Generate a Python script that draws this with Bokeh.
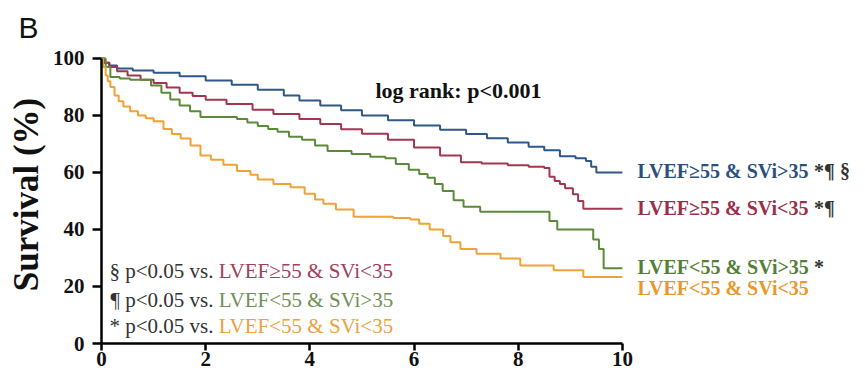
from bokeh.plotting import figure
from bokeh.models import Range1d, FixedTicker, Label, ColumnDataSource, Title
from bokeh.core.properties import value
from bokeh.embed import file_html
from bokeh.resources import INLINE

# ---------------- data ----------------
groups = ["LVEF\u226555 & SVi>35", "LVEF\u226555 & SVi<35", "LVEF<55 & SVi>35", "LVEF<55 & SVi<35"]
marks = ["*\u00b6 \u00a7", "*\u00b6", "*", ""]
colors = ["#2f5789", "#a3364f", "#5b8a3b", "#f0a236"]
text_colors = ["#2c4f7c", "#9a2f4a", "#557f38", "#e8982c"]

blue_x = [0, 0.05, 0.15, 0.3, 0.6, 1.0, 1.5, 2.0, 2.5, 3.0, 3.5, 3.8, 4.2, 4.6, 5.0, 5.5, 6.0, 6.5, 7.0, 7.4, 7.8, 8.2, 8.5, 8.8, 9.1, 9.3, 9.4, 9.5, 10.0]
blue_y = [100, 98.5, 97.5, 96.5, 95.8, 95, 93.8, 92.3, 90.8, 89, 87, 85.3, 83.5, 81.8, 80, 78.3, 76.5, 75, 73.5, 72, 70.5, 69, 67.8, 65.7, 65, 64, 62, 60, 60]

red_x = [0, 0.05, 0.15, 0.3, 0.5, 0.75, 1.0, 1.25, 1.5, 1.75, 2.0, 2.4, 2.9, 3.3, 3.8, 4.2, 4.6, 5.0, 5.5, 6.0, 6.5, 6.9, 7.3, 7.8, 8.2, 8.5, 8.6, 8.7, 8.8, 8.9, 9.05, 9.15, 9.25, 10.0]
red_y = [100, 98.5, 97, 95.5, 94, 92.5, 91.4, 89.8, 88, 86.8, 85.5, 84, 82, 80.5, 78.8, 77, 75.2, 73.6, 71.5, 68.8, 66, 63.6, 63.2, 62.5, 62, 61.6, 58.5, 57, 56, 54.5, 52.4, 50, 47.3, 47.3]

green_x = [0, 0.08, 0.17, 0.35, 0.55, 0.75, 0.95, 1.15, 1.32, 1.5, 1.7, 1.9, 2.6, 2.8, 3.0, 3.2, 3.38, 3.6, 3.85, 4.1, 4.34, 4.8, 5.16, 5.45, 5.65, 5.9, 6.1, 6.26, 6.4, 6.55, 6.76, 6.95, 7.27, 8.48, 8.6, 8.75, 9.39, 9.44, 9.55, 9.64, 10.0]
green_y = [100, 97, 93.5, 93, 92.5, 92.5, 90.5, 88, 85.6, 83.5, 81.5, 79.5, 78.8, 77.5, 76.3, 75.3, 74.3, 72.5, 71.5, 69.5, 67.5, 66.5, 65.5, 65, 63, 61, 59.5, 58.2, 56, 53.5, 50.3, 48, 46.2, 46.2, 43, 40, 40, 36.5, 33.2, 26.4, 26.4]

orange_x = [0, 0.03, 0.08, 0.12, 0.17, 0.25, 0.33, 0.42, 0.55, 0.7, 0.85, 1.0, 1.19, 1.35, 1.52, 1.71, 1.9, 2.1, 2.34, 2.6, 2.86, 3.0, 3.3, 3.63, 3.9, 4.1, 4.26, 4.5, 4.84, 5.3, 5.6, 5.93, 6.1, 6.3, 6.56, 6.7, 6.89, 7.2, 7.66, 8.04, 8.68, 9.25, 10.0]
orange_y = [100, 97, 94, 92, 90, 87, 85, 83.2, 81.5, 80, 79, 78, 75.3, 73.5, 71.9, 69.5, 66, 64.5, 62.7, 60.5, 59.2, 57.5, 56, 54.8, 52.5, 50.5, 49, 47, 44.5, 44.5, 44, 43.5, 42, 40, 37.7, 35.5, 33.2, 31.5, 29.8, 27.4, 25.7, 23.3, 23.3]

x_ticks = [0, 2, 4, 6, 8, 10]
y_ticks = [0, 20, 40, 60, 80, 100]

note_prefix = ["\u00a7 p<0.05 vs.", "\u00b6 p<0.05 vs.", "* p<0.05 vs."]
note_groups = ["LVEF\u226555 & SVi<35", "LVEF<55 & SVi>35", "LVEF<55 & SVi<35"]
note_colors = ["#a0405a", "#6f8f55", "#eda040"]

# ---------------- layout constants ----------------
label_x = 10.29
label_y = [60.7, 47.7, 26.7, 19.6]
mark_x = 13.68
note_x = 2.25
note_y = [25.6, 15.4, 6.3]

SERIF = "Liberation Serif"

p = figure(width=849, height=375, output_backend="svg", toolbar_location=None,
           x_range=Range1d(0, 14.36), y_range=Range1d(0, 104.56),
           min_border_left=101, min_border_right=0, min_border_top=45, min_border_bottom=32)
p.outline_line_color = None
p.xgrid.visible = False
p.ygrid.visible = False
p.background_fill_color = "white"
p.border_fill_color = "white"

# panel letter as title
p.add_layout(Title(text="B", align="left", offset=-83, standoff=4,
                   text_font="Liberation Sans", text_font_style="normal",
                   text_font_size="30px", text_color="#111111"), "above")

series = [(blue_x, blue_y), (red_x, red_y), (green_x, green_y), (orange_x, orange_y)]
for (xs, ys), c in zip(series, colors):
    p.step(x=xs, y=ys, mode="after", line_color=c, line_width=2)

for ax, ticks, b in [(p.xaxis[0], x_ticks, (0, 10)), (p.yaxis[0], y_ticks, (0, 100))]:
    ax.ticker = FixedTicker(ticks=ticks)
    ax.bounds = b
    ax.axis_line_width = 2.5
    ax.axis_line_color = "black"
    ax.major_tick_line_width = 2.5
    ax.major_tick_line_color = "black"
    ax.major_tick_in = 0
    ax.minor_tick_line_color = None
    ax.major_label_text_font = SERIF
    ax.major_label_text_font_style = "bold"
    ax.major_label_text_font_size = "21px"
    ax.major_label_text_color = "#111111"

p.xaxis.major_tick_out = 7
p.xaxis.major_label_standoff = 1
p.yaxis.major_tick_out = 9
p.yaxis.major_label_standoff = 8
p.yaxis.axis_label = "Survival (%)"
p.yaxis.axis_label_text_font = SERIF
p.yaxis.axis_label_text_font_style = "bold"
p.yaxis.axis_label_text_font_size = "35px"
p.yaxis.axis_label_text_color = "#111111"
p.yaxis.axis_label_standoff = 4

# group labels on the right
src = ColumnDataSource(dict(x=[label_x] * 4, y=label_y, t=groups, c=text_colors))
p.text(x="x", y="y", text="t", text_color="c", source=src,
       text_font=value(SERIF), text_font_style="bold", text_font_size="20px",
       text_baseline="alphabetic", text_align="left")
msrc = ColumnDataSource(dict(x=[mark_x] * 4, y=label_y, t=marks))
p.text(x="x", y="y", text="t", text_color="#333333", source=msrc,
       text_font=value(SERIF), text_font_style="bold", text_font_size="20px",
       text_baseline="alphabetic", text_align="left")

# notes bottom-left
nsrc = ColumnDataSource(dict(x=[note_x - 0.1] * 3, y=note_y, t=note_prefix))
p.text(x="x", y="y", text="t", text_color="#333333", source=nsrc,
       text_font=value(SERIF), text_font_size="21px",
       text_baseline="alphabetic", text_align="right")
gsrc = ColumnDataSource(dict(x=[note_x] * 3, y=note_y, t=note_groups, c=note_colors))
p.text(x="x", y="y", text="t", text_color="c", source=gsrc,
       text_font=value(SERIF), text_font_size="21px",
       text_baseline="alphabetic", text_align="left")

# log rank
p.add_layout(Label(x=5.26, y=88.8, text="log rank: p<0.001", text_font=SERIF,
                   text_font_style="bold", text_font_size="22px", text_color="#111111",
                   text_baseline="alphabetic"))

open("out.html", "w").write(file_html(p, INLINE))
